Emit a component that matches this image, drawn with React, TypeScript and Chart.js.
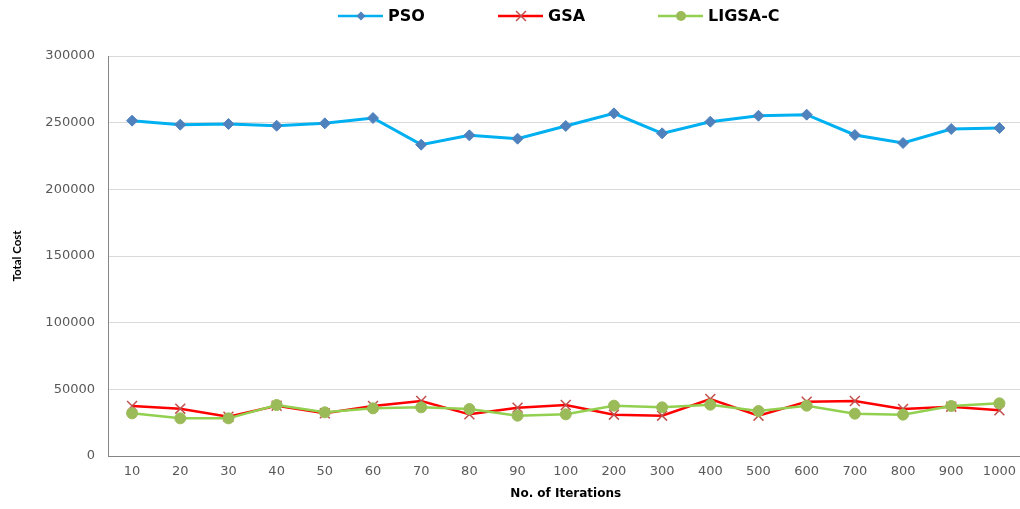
import { useEffect, useRef } from 'react';
import { Chart, registerables } from 'chart.js';

Chart.register(...registerables);

const iterations = ['10', '20', '30', '40', '50', '60', '70', '80', '90', '100', '200', '300', '400', '500', '600', '700', '800', '900', '1000'];
const psoCost = [251500, 248500, 249000, 247700, 249500, 253500, 233500, 240500, 238000, 247500, 257000, 242000, 250700, 255200, 256000, 240750, 234750, 245250, 246000];
const gsaCost = [37500, 35500, 29500, 37700, 32000, 37500, 41250, 31250, 36250, 38250, 31000, 30250, 42750, 30250, 40750, 41250, 35250, 37000, 34250];
const ligsaCost = [32000, 28250, 28250, 38250, 32750, 35750, 36500, 35250, 30250, 31250, 37750, 36500, 38500, 33750, 37750, 31750, 31000, 37500, 39500];
const yTicks = [0, 50000, 100000, 150000, 200000, 250000, 300000];
const seriesNames = ['PSO', 'GSA', 'LIGSA-C'];

const lineColors = ['#00B0F0', '#FF0000', '#92D050'];
const markerColors = ['#4F81BD', '#C0504D', '#9BBB59'];

function drawMarker(ctx: CanvasRenderingContext2D, kind: string, cx: number, cy: number, r: number, color: string) {
  ctx.save();
  ctx.fillStyle = color;
  ctx.strokeStyle = color;
  ctx.beginPath();
  if (kind === 'rectRot') {
    ctx.moveTo(cx, cy - r);
    ctx.lineTo(cx + r, cy);
    ctx.lineTo(cx, cy + r);
    ctx.lineTo(cx - r, cy);
    ctx.closePath();
    ctx.fill();
  } else if (kind === 'crossRot') {
    const d = r * Math.SQRT1_2;
    ctx.lineWidth = 1.5;
    ctx.moveTo(cx - d, cy - d);
    ctx.lineTo(cx + d, cy + d);
    ctx.moveTo(cx - d, cy + d);
    ctx.lineTo(cx + d, cy - d);
    ctx.stroke();
  } else {
    ctx.arc(cx, cy, r, 0, Math.PI * 2);
    ctx.fill();
  }
  ctx.restore();
}

const legendPlugin = {
  id: 'excelLegend',
  afterDraw(chart: any) {
    const ctx: CanvasRenderingContext2D = chart.ctx;
    const y = 16;
    const starts = [338, 498, 658];
    const kinds = ['rectRot', 'crossRot', 'circle'];
    const radii = [4.5, 7, 5];
    chart.data.datasets.forEach((ds: any, i: number) => {
      const x0 = starts[i];
      ctx.save();
      ctx.strokeStyle = lineColors[i];
      ctx.lineWidth = 2.5;
      ctx.beginPath();
      ctx.moveTo(x0, y);
      ctx.lineTo(x0 + 45, y);
      ctx.stroke();
      ctx.restore();
      drawMarker(ctx, kinds[i], x0 + 23, y, radii[i], markerColors[i]);
      ctx.save();
      ctx.fillStyle = '#000000';
      ctx.font = 'bold 16px "DejaVu Sans"';
      ctx.textBaseline = 'middle';
      ctx.textAlign = 'left';
      ctx.fillText(ds.label, x0 + 50, y + 1);
      ctx.restore();
    });
  },
};

export default function App() {
  const canvasRef = useRef<HTMLCanvasElement | null>(null);

  useEffect(() => {
    if (!canvasRef.current) return;
    const chart = new Chart(canvasRef.current, {
      type: 'line',
      data: {
        labels: iterations,
        datasets: [
          {
            label: seriesNames[0],
            data: psoCost,
            borderColor: lineColors[0],
            backgroundColor: markerColors[0],
            pointBackgroundColor: markerColors[0],
            pointBorderColor: markerColors[0],
            pointStyle: 'rectRot',
            pointRadius: 5.5,
            pointBorderWidth: 1,
            borderWidth: 3,
            tension: 0,
            order: 2,
          },
          {
            label: seriesNames[1],
            data: gsaCost,
            borderColor: lineColors[1],
            backgroundColor: markerColors[1],
            pointBackgroundColor: markerColors[1],
            pointBorderColor: markerColors[1],
            pointStyle: 'crossRot',
            pointRadius: 7,
            pointBorderWidth: 1.5,
            borderWidth: 2.5,
            tension: 0,
            order: 1,
          },
          {
            label: seriesNames[2],
            data: ligsaCost,
            borderColor: lineColors[2],
            backgroundColor: markerColors[2],
            pointBackgroundColor: markerColors[2],
            pointBorderColor: markerColors[2],
            pointStyle: 'circle',
            pointRadius: 5.5,
            pointBorderWidth: 1,
            borderWidth: 2.5,
            tension: 0,
            order: 0,
          },
        ],
      },
      options: {
        responsive: false,
        animation: false,
        layout: { padding: { top: 56, right: 0, left: 0, bottom: 0 } },
        plugins: {
          legend: { display: false },
          tooltip: { enabled: false },
        },
        scales: {
          x: {
            type: 'category',
            offset: true,
            grid: { display: true, drawOnChartArea: false, drawTicks: false },
            border: { display: true, color: '#868686', width: 1 },
            ticks: {
              color: '#595959',
              font: { family: '"DejaVu Sans"', size: 13 },
              padding: 8,
              maxRotation: 0,
              autoSkip: false,
            },
            title: {
              display: true,
              text: 'No. of Iterations',
              color: '#000000',
              font: { family: '"DejaVu Sans"', size: 12, weight: 'bold' },
              padding: { top: 0, bottom: 8 },
            },
            afterFit: (scale: any) => {
              scale.height = 53;
            },
          },
          y: {
            min: yTicks[0],
            max: yTicks[yTicks.length - 1],
            grid: { color: '#D9D9D9', drawTicks: false },
            border: { display: true, color: '#868686', width: 1 },
            ticks: {
              stepSize: yTicks[1] - yTicks[0],
              color: '#595959',
              font: { family: '"DejaVu Sans"', size: 13 },
              padding: 13,
              callback: (v: any) => String(v),
            },
            title: {
              display: true,
              text: 'Total Cost',
              color: '#000000',
              font: { family: 'Lato', size: 11.5, weight: 'bold' },
              padding: { top: 10, bottom: 0 },
            },
            afterFit: (scale: any) => {
              scale.width = 108;
            },
          },
        },
      },
      plugins: [legendPlugin],
    });
    return () => chart.destroy();
  }, []);

  return (
    <div style={{ position: 'fixed', left: 0, top: 0, width: 1020, height: 509, background: '#ffffff', overflow: 'hidden' }}>
      <canvas ref={canvasRef} width={1032} height={509} style={{ width: 1032, height: 509, display: 'block' }} />
    </div>
  );
}
